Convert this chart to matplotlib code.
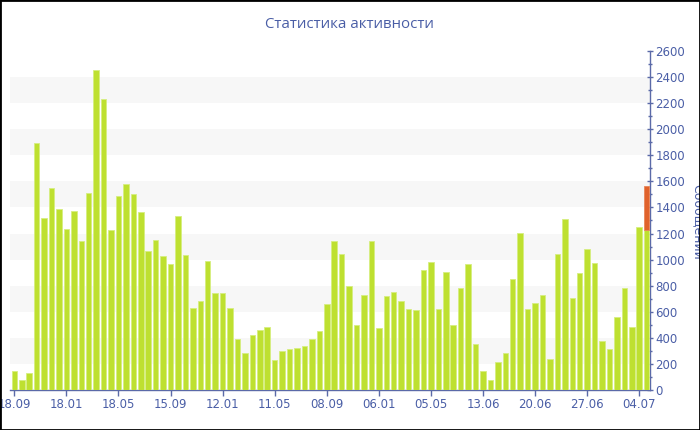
import matplotlib
matplotlib.use("Agg")
import matplotlib.pyplot as plt
from matplotlib.ticker import MultipleLocator, FixedLocator, FixedFormatter

# ---- data ----
messages = [145, 79, 132, 1894, 1320, 1552, 1387, 1231, 1371, 1139,
            1512, 2455, 2230, 1226, 1489, 1578, 1506, 1369, 1065, 1152,
            1025, 969, 1336, 1037, 627, 686, 989, 742, 742, 632,
            392, 285, 421, 464, 482, 229, 301, 314, 321, 334,
            392, 454, 660, 1139, 1045, 800, 497, 729, 1142, 474,
            724, 749, 681, 622, 612, 918, 984, 619, 902, 497,
            782, 970, 354, 143, 74, 212, 280, 851, 1203, 624,
            668, 726, 237, 1042, 1308, 709, 895, 1081, 971, 375,
            314, 563, 785, 487, 1252, 1226]
extra_index = [85]
extra_values = [342]
tick_index = [0, 7, 14, 21, 28, 35, 42, 49, 56, 63, 70, 77, 84]
tick_labels = ["18.09", "18.01", "18.05", "15.09", "12.01", "11.05", "08.09",
               "06.01", "05.05", "13.06", "20.06", "27.06", "04.07"]

title = "Статистика активности"
ylabel = "Сообщений"

# ---- style ----
W, H = 700, 430
blue = "#4a5ea6"
axis_col = "#5b6aa8"
green = "#bee030"
green_edge = "#d6ee80"
orange = "#e0622c"

fig = plt.figure(figsize=(W / 100, H / 100), dpi=100)
fig.patch.set_facecolor("white")

left, right, top, bottom = 10, 650, 51, 390
ax = fig.add_axes([left / W, 1 - bottom / H, (right - left) / W, (bottom - top) / H])
ax.set_facecolor("white")

x = list(range(len(messages)))
ax.bar(x, messages, width=0.74, color=green, edgecolor=green_edge, linewidth=0.6, zorder=3)
ax.bar(extra_index, extra_values, bottom=[messages[i] for i in extra_index],
       width=0.74, color=orange, edgecolor="#e8855a", linewidth=0.6, zorder=3)

ax.set_xlim(-0.58, 85.45)
ax.set_ylim(0, 2600)

# alternating bands
for lo in range(200, 2600, 400):
    ax.axhspan(lo, lo + 200, color="#f7f7f7", zorder=0, lw=0)

for s in ["left", "top"]:
    ax.spines[s].set_visible(False)
ax.spines["right"].set_color(axis_col)
ax.spines["bottom"].set_color(axis_col)
ax.spines["right"].set_linewidth(1.0)
ax.spines["bottom"].set_linewidth(1.0)

ax.yaxis.tick_right()
ax.yaxis.set_major_locator(MultipleLocator(200))
ax.yaxis.set_minor_locator(MultipleLocator(100))
ax.tick_params(axis="y", which="major", direction="inout", length=5, width=1,
               color=axis_col, labelcolor=blue, labelsize=8.5, pad=1.5)
ax.tick_params(axis="y", which="minor", direction="inout", length=3, width=1, color=axis_col)

ax.xaxis.set_major_locator(FixedLocator(tick_index))
ax.xaxis.set_major_formatter(FixedFormatter(tick_labels))
ax.tick_params(axis="x", which="major", direction="out", length=4, width=1,
               color=axis_col, labelcolor=blue, labelsize=8.5, pad=2)

for lab in ax.get_xticklabels() + ax.get_yticklabels():
    lab.set_fontfamily("DejaVu Sans")

fig.text(349 / W, 1 - 25 / H, title, ha="center", va="center",
         fontsize=10.8, color=blue, family="Open Sans")
fig.text(691 / W, 1 - 222 / H, ylabel, ha="left", va="center", rotation=270,
         fontsize=9, color=blue, family="DejaVu Sans")

# figure frame
fig.patches.append(plt.Rectangle((0, 0), 1, 1, transform=fig.transFigure,
                                 fill=False, edgecolor="black", linewidth=2, zorder=10))

fig.savefig("out.png", dpi=100)
